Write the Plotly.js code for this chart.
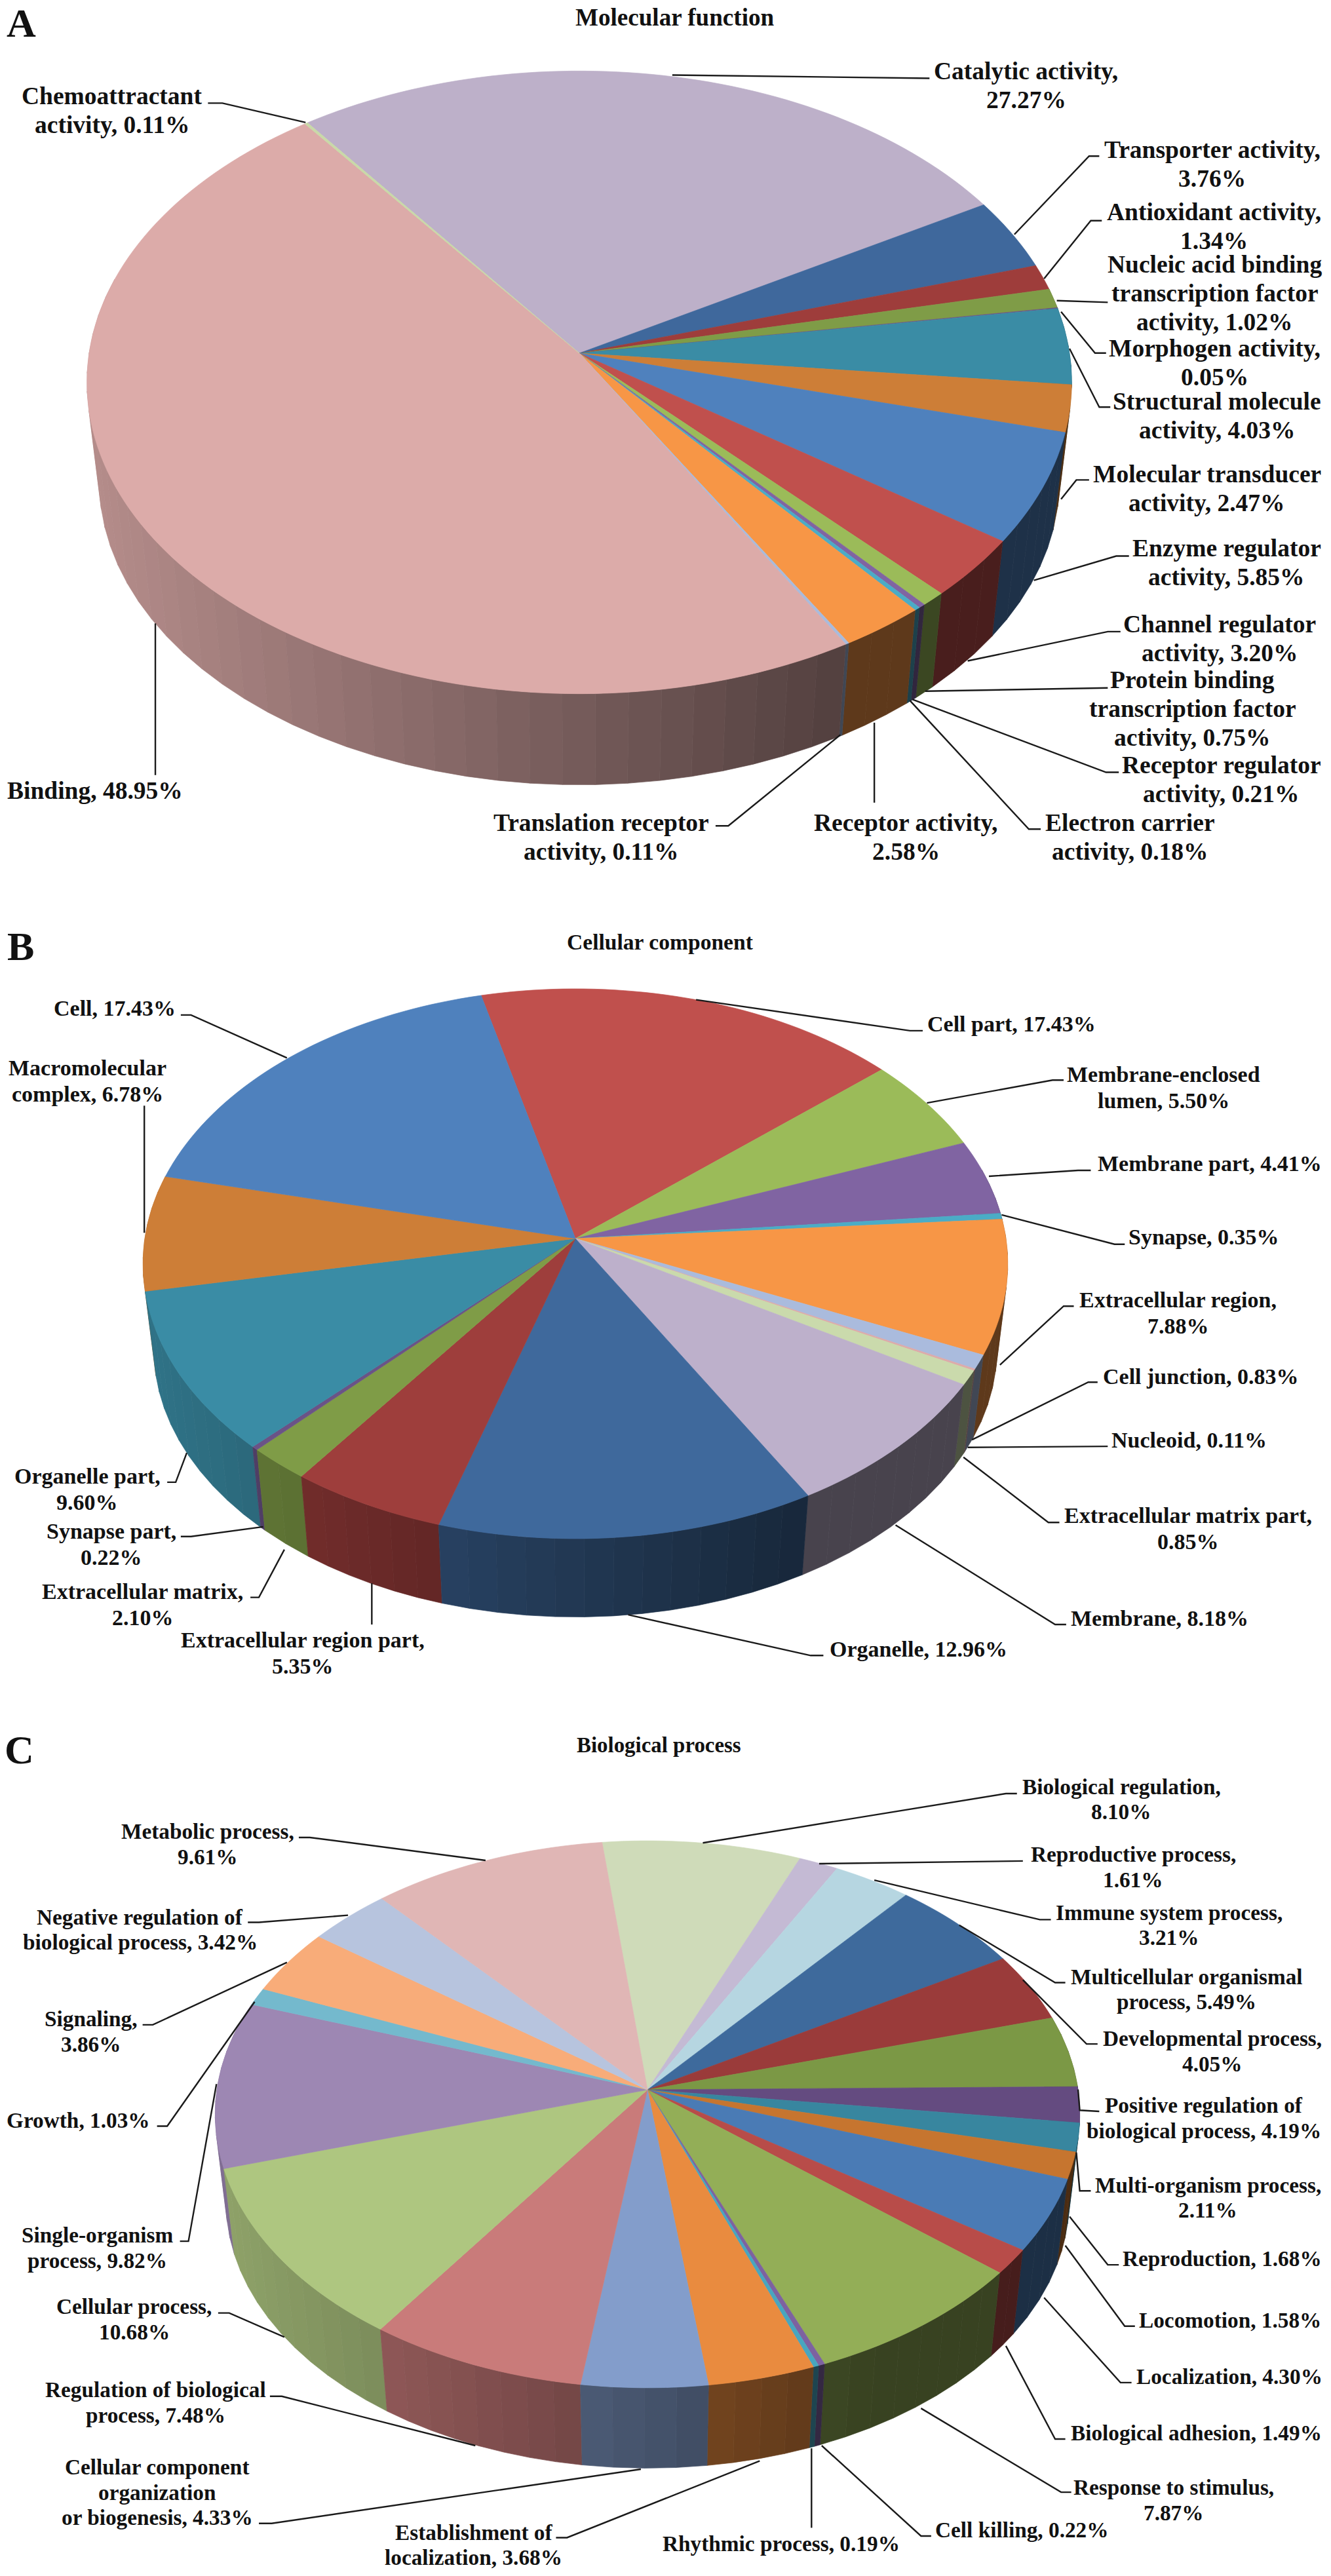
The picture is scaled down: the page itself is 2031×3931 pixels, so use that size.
<!DOCTYPE html>
<html><head><meta charset="utf-8">
<script src="https://cdn.plot.ly/plotly-3.0.1.min.js"></script>
<style>html,body{margin:0;padding:0;background:#fff}</style></head>
<body><div id="chart" style="width:2031px;height:3931px"></div>
<script>
// ---------- DATA ----------
const namesA = ["Catalytic activity,<br>","Transporter activity,<br>","Antioxidant activity,<br>","Nucleic acid binding<br>transcription factor<br>activity, ","Morphogen activity,<br>","Structural molecule<br>activity, ","Molecular transducer<br>activity, ","Enzyme regulator<br>activity, ","Channel regulator<br>activity, ","Protein binding<br>transcription factor<br>activity, ","Receptor regulator<br>activity, ","Electron carrier<br>activity, ","Receptor activity,<br>","Translation receptor<br>activity, ","Binding, ","Chemoattractant<br>activity, "];
const valuesA = [27.27,3.76,1.34,1.02,0.05,4.03,2.47,5.85,3.20,0.75,0.21,0.18,2.58,0.11,48.95,0.11];
const colorsA = ["#BDB0C9","#3F689C","#9E3D3B","#7F9C47","#6A5486","#3A8CA5","#CD7E37","#4F81BD","#C0504D","#9BBB59","#8064A2","#4BACC6","#F79646","#A9BBDC","#DCABA9","#C9D9A8"];

const namesB = ["Cell part, ","Membrane-enclosed<br>lumen, ","Membrane part, ","Synapse, ","Extracellular region,<br>","Cell junction, ","Nucleoid, ","Extracellular matrix part,<br>","Membrane, ","Organelle, ","Extracellular region part,<br>","Extracellular matrix,<br>","Synapse part,<br>","Organelle part,<br>","Macromolecular<br>complex, ","Cell, "];
const valuesB = [17.43,5.50,4.41,0.35,7.88,0.83,0.11,0.85,8.18,12.96,5.35,2.10,0.22,9.60,6.78,17.43];
const colorsB = ["#C0504D","#9BBB59","#8064A2","#4BACC6","#F79646","#AABBDD","#DDAAAA","#CADAAC","#BDB0CB","#3F699C","#9E3E3C","#7F9C47","#6A5387","#3A8CA5","#CD7E37","#4F81BD"];

const namesC = ["Biological regulation,<br>","Reproductive process,<br>","Immune system process,<br>","Multicellular organismal<br>process, ","Developmental process,<br>","Positive regulation of<br>biological process, ","Multi-organism process,<br>","Reproduction, ","Locomotion, ","Localization, ","Biological adhesion, ","Response to stimulus,<br>","Cell killing, ","Rhythmic process, ","Establishment of<br>localization, ","Cellular component<br>organization<br>or biogenesis, ","Regulation of biological<br>process, ","Cellular process,<br>","Single-organism<br>process, ","Growth, ","Signaling,<br>","Negative regulation of<br>biological process, ","Metabolic process,<br>"];
const valuesC = [8.10,1.61,3.21,5.49,4.05,4.19,2.11,1.68,1.58,4.30,1.49,7.87,0.22,0.19,3.68,4.33,7.48,10.68,9.82,1.03,3.86,3.42,9.61];
const colorsC = ["#CFDBB9","#C4BAD4","#B6D6E1","#3E6A9C","#9A3B3A","#7B9845","#644B80","#38869F","#C6752F","#4A7BB5","#B84C49","#93AE57","#7D62A0","#48A6BF","#E98B3F","#839DCB","#C97B7A","#AEC680","#9D87B3","#74B9CD","#F8AC79","#B7C4DE","#E0B6B5"];

const titles = ["Molecular function","Cellular component","Biological process"];
const panelLetters = ["A","B","C"];

// ---------- LAYOUT (panel geometry and label placement; reference-crop units) ----------
const geomA = {ax:884,ay:539,A:748,B:471,k:.0936,s:.975,D:152,start:323.4,y0:0,h:1320,font:37.5,lh:44};
const geomB = {ax:878,ay:1890,A:657,B:416,k:.0917,s:.975,D:131,start:346.2,y0:1320,h:1300,font:34,lh:40};
const geomC = {ax:988,ay:3189,A:657,B:414,k:.0897,s:.975,D:134,start:353.4,y0:2620,h:1311,font:33.3,lh:38.5};

const labelPosA = [[1209,155],[1428,297],[1430,411],[1431,531],[1431,658],[1434,754],[1422,885],[1445,1020],[1437,1158],[1405,1285],[1439,1413],[1331,1518],[1067,1518],[708,1518],[112,1433],[132,200]];
const leadersA = [[[792,136],[1095,142]],[[1195,425],[1283,283],[1295,283]],[[1230,505],[1285,400],[1298,400]],[[1245,545],[1305,548]],[[1250,565],[1290,640],[1303,640]],[[1260,632],[1295,738],[1308,738]],[[1250,905],[1268,870],[1283,870]],[[1218,1052],[1315,1008],[1330,1008]],[[1140,1198],[1305,1145],[1320,1145]],[[1090,1253],[1305,1247]],[[1075,1268],[1303,1400],[1318,1400]],[[1072,1270],[1212,1503],[1226,1503]],[[1030,1310],[1030,1455]],[[990,1332],[858,1497],[843,1497]],[[183,1130],[183,1405]],[[360,222],[262,187],[245,187]]];
const titlePosA = [795,32], letterPosA = [25,42];

const labelPosB = [[1192,292],[1371,410],[1425,549],[1418,685],[1388,824],[1414,941],[1401,1058],[1400,1221],[1366,1386],[1082,1443],[357,1450],[168,1361],[131,1250],[103,1149],[103,398],[135,264]];
const leadersB = [[[820,248],[1072,305],[1087,305]],[[1092,438],[1240,396],[1253,396]],[[1165,573],[1270,562],[1285,562]],[[1180,644],[1313,698],[1325,698]],[[1178,920],[1253,812],[1265,812]],[[1145,1058],[1282,952],[1293,952]],[[1140,1072],[1305,1070]],[[1135,1090],[1235,1210],[1248,1210]],[[1055,1215],[1243,1398],[1256,1398]],[[740,1380],[955,1455],[970,1455]],[[438,1322],[438,1398]],[[335,1260],[305,1348],[295,1348]],[[310,1218],[225,1236],[213,1236]],[[220,1082],[207,1136],[197,1136]],[[170,677],[170,443]],[[338,355],[225,276],[213,276]]];
const titlePosB = [778,142], letterPosB = [24,150];

const labelPosC = [[1321,150],[1335,274],[1377,380],[1398,497],[1428,610],[1418,732],[1423,877],[1440,989],[1449,1101],[1448,1204],[1409,1307],[1383,1429],[1204,1484],[920,1509],[558,1511],[185,1415],[183,1251],[158,1099],[115,969],[92,736],[107,574],[165,388],[245,232]];
const leadersC = [[[828,230],[1185,140],[1198,140]],[[965,268],[1205,263]],[[1030,298],[1225,370],[1238,370]],[[1130,380],[1243,485],[1255,485]],[[1205,480],[1280,597],[1293,597]],[[1270,680],[1272,718],[1295,720]],[[1268,795],[1272,865],[1285,865]],[[1260,912],[1305,1000],[1318,1000]],[[1255,965],[1325,1112],[1337,1112]],[[1230,1060],[1320,1215],[1333,1215]],[[1185,1148],[1243,1318],[1255,1318]],[[1085,1262],[1250,1415],[1262,1415]],[[968,1330],[1085,1495],[1097,1495]],[[956,1335],[956,1480]],[[895,1358],[668,1498],[655,1498]],[[755,1373],[320,1472],[305,1472]],[[560,1330],[332,1240],[318,1240]],[[335,1132],[270,1088],[257,1088]],[[255,670],[222,957],[212,957]],[[300,520],[197,747],[185,747]],[[338,448],[180,562],[168,562]],[[410,362],[305,375],[292,375]],[[572,262],[365,220],[352,220]]];
const titlePosC = [776,51], letterPosC = [23,60];

// ---------- DRAWING ----------
const traces = [], annotations = [];
const FONT = "'Liberation Serif','Times New Roman',serif";
const rad = d => d*Math.PI/180;
function shade(hex,f){
  const n=parseInt(hex.slice(1),16);
  const c=[(n>>16)&255,(n>>8)&255,n&255].map(v=>Math.round(v*f));
  return `rgb(${c[0]},${c[1]},${c[2]})`;
}
function poly(xs,ys,color){
  traces.push({type:'scatter',mode:'lines',x:xs,y:ys,fill:'toself',fillcolor:color,
    line:{color:color,width:0.7,simplify:false},hoverinfo:'skip',showlegend:false});
}
function drawPanel(g,values,colors,names,labelPos,leaders,titlePos,letterPos,title,letter){
  const zx = x => x*2031/1568, zy = y => g.y0 + y*g.h/1568;
  const rim = t => {
    const u=Math.sin(rad(t)), v=Math.cos(rad(t)), w=1+g.k*v;
    return [g.ax+g.A*u/w, g.ay-g.B*v/w];
  };
  const low = p => [g.ax+g.s*(p[0]-g.ax), g.ay+g.s*(p[1]-g.ay)+g.D];
  const total = values.reduce((a,b)=>a+b,0);
  const spans=[]; let a=g.start;
  values.forEach(v=>{const b=a+v/total*360; spans.push([a,b]); a=b;});
  // side wall, drawn as narrow shaded bands, back to front
  const bands=[];
  spans.forEach(([s,e],i)=>{
    const n=Math.max(1,Math.round((e-s)/3.5));
    for(let j=0;j<n;j++){
      const t0=s+(e-s)*j/n, t1=s+(e-s)*(j+1)/n;
      if(Math.cos(rad((t0+t1)/2))>0.25) continue;
      const p0=rim(t0), p1=rim(t1), q0=low(p0), q1=low(p1);
      const f=Math.max(.38,.82-.58*((p0[0]+p1[0])/2-(g.ax-g.A))/(2*g.A));
      bands.push({y:(p0[1]+p1[1])/2,xs:[p0[0],p1[0],q1[0],q0[0],p0[0]],ys:[p0[1],p1[1],q1[1],q0[1],p0[1]],c:shade(colors[i],f)});
    }
  });
  bands.sort((m,n)=>m.y-n.y).forEach(b=>poly(b.xs,b.ys,b.c));
  // top surface
  spans.forEach(([s,e],i)=>{
    const n=Math.max(2,Math.ceil((e-s)/1.5));
    const xs=[g.ax], ys=[g.ay];
    for(let j=0;j<=n;j++){const p=rim(s+(e-s)*j/n); xs.push(p[0]); ys.push(p[1]);}
    xs.push(g.ax); ys.push(g.ay);
    poly(xs,ys,colors[i]);
  });
  // leader lines
  const lx=[], ly=[];
  leaders.forEach(l=>{l.forEach(p=>{lx.push(zx(p[0])); ly.push(zy(p[1]));}); lx.push(null); ly.push(null);});
  traces.push({type:'scatter',mode:'lines',x:lx,y:ly,line:{color:'#1a1a1a',width:2.4},hoverinfo:'skip',showlegend:false});
  // labels, one annotation per text line so that the line pitch can follow the reference
  const note=(p,text,size)=>{
    const lines=text.split('<br>');
    lines.forEach((ln,i)=>annotations.push({x:zx(p[0]),y:zy(p[1])+(i-(lines.length-1)/2)*g.lh,xref:'x',yref:'y',text:`<b>${ln}</b>`,showarrow:false,
      xanchor:'center',yanchor:'middle',align:'center',font:{family:FONT,size:size,color:'#111'}}));
  };
  values.forEach((v,i)=>note(labelPos[i],names[i]+v.toFixed(2)+'%',g.font));
  note(titlePos,title,g.font-0.4);
  note(letterPos,letter,62);
}
drawPanel(geomA,valuesA,colorsA,namesA,labelPosA,leadersA,titlePosA,letterPosA,titles[0],panelLetters[0]);
drawPanel(geomB,valuesB,colorsB,namesB,labelPosB,leadersB,titlePosB,letterPosB,titles[1],panelLetters[1]);
drawPanel(geomC,valuesC,colorsC,namesC,labelPosC,leadersC,titlePosC,letterPosC,titles[2],panelLetters[2]);

Plotly.newPlot('chart',traces,{
  width:2031,height:3931,margin:{l:0,r:0,t:0,b:0},paper_bgcolor:'#fff',plot_bgcolor:'#fff',showlegend:false,
  xaxis:{range:[0,2031],visible:false,fixedrange:true},
  yaxis:{range:[3931,0],visible:false,fixedrange:true},
  annotations:annotations
},{displayModeBar:false,staticPlot:true});
</script></body></html>
